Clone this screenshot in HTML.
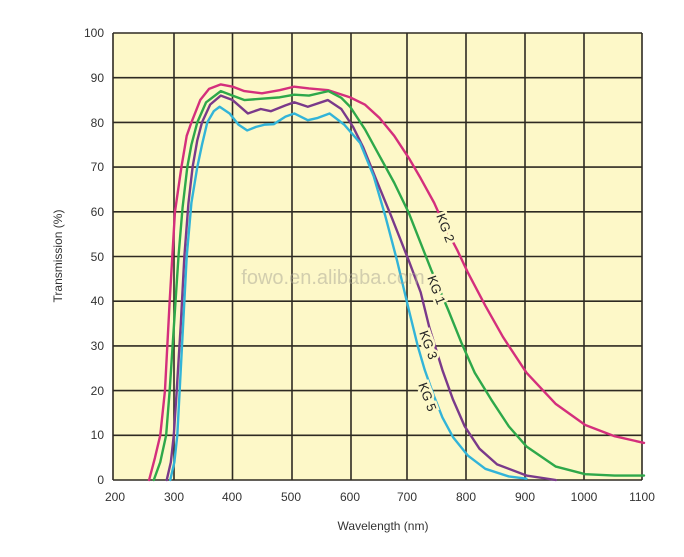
<!DOCTYPE html>
<html><head><style>
body{margin:0;background:#fff;width:684px;height:552px;overflow:hidden;font-family:"Liberation Sans",sans-serif}
</style></head><body>
<svg width="684" height="552" xmlns="http://www.w3.org/2000/svg" font-family="Liberation Sans, sans-serif">
<rect x="113" y="33" width="529" height="447" fill="#fdf8c8"/>
<g stroke="#2e2a22" stroke-width="1.6">
<line x1="113" y1="33" x2="642" y2="33"/><line x1="113" y1="77.7" x2="642" y2="77.7"/><line x1="113" y1="122.4" x2="642" y2="122.4"/><line x1="113" y1="167.1" x2="642" y2="167.1"/><line x1="113" y1="211.8" x2="642" y2="211.8"/><line x1="113" y1="256.5" x2="642" y2="256.5"/><line x1="113" y1="301.2" x2="642" y2="301.2"/><line x1="113" y1="345.9" x2="642" y2="345.9"/><line x1="113" y1="390.6" x2="642" y2="390.6"/><line x1="113" y1="435.3" x2="642" y2="435.3"/><line x1="113" y1="480" x2="642" y2="480"/>
<line x1="113" y1="33" x2="113" y2="480"/><line x1="174" y1="33" x2="174" y2="480"/><line x1="232.5" y1="33" x2="232.5" y2="480"/><line x1="292" y1="33" x2="292" y2="480"/><line x1="351" y1="33" x2="351" y2="480"/><line x1="407" y1="33" x2="407" y2="480"/><line x1="466" y1="33" x2="466" y2="480"/><line x1="525" y1="33" x2="525" y2="480"/><line x1="584" y1="33" x2="584" y2="480"/><line x1="642" y1="33" x2="642" y2="480"/>
</g>
<g transform="translate(115,480) scale(0.5878,-4.47) translate(-200,0)" fill="none" stroke-width="2.4" stroke-linejoin="round" stroke-linecap="round">
<polyline vector-effect="non-scaling-stroke" stroke="#d42f7c" points="258,0 268,5 277,10 285,20 293,40 302,60 313,70 322,77 330,80 345,85 360,87.5 380,88.5 400,88 420,87 450,86.5 480,87.2 505,88 530,87.6 563,87.2 600,85.6 625,84 650,81 675,77 700,72 720,67.5 743,62 760,57 782,51.5 800,46.5 830,39 860,32 900,24 950,17 1000,12.3 1050,9.8 1100,8.3"/>
<polyline vector-effect="non-scaling-stroke" stroke="#2ea84a" points="266,0 277,4 287,10 293,20 298,30 303,40 308,50 315,61 323,70 330,75 340,80 355,84.5 380,87 400,86 420,85 450,85.3 480,85.6 505,86.2 530,86 563,87 585,85.5 600,83.5 625,78.5 650,72.5 675,66.5 700,59.7 720,53 738,47 767,38 790,30.5 812,24 840,18 870,12 900,7.5 950,3 1000,1.3 1050,1 1100,1"/>
<polyline vector-effect="non-scaling-stroke" stroke="#7a3a8a" points="288,0 295,4 300,10 305,20 312,35 318,50 325,62 332,70 340,76 348,80 362,84 380,86 400,85 426,82 448,83 465,82.5 490,83.8 505,84.5 528,83.5 562,85 585,83 605,79 622,74.5 645,67 670,59 700,49 720,42 735,34 757,24.6 775,18 795,12 820,7 850,3.5 900,1 950,0"/>
<polyline vector-effect="non-scaling-stroke" stroke="#32b4d8" points="294,0 301,4 306,10 310,20 316,35 322,50 330,62 340,70 348,75 357,80 368,82.5 378,83.5 395,82 410,79.5 425,78.2 440,79 455,79.5 470,79.6 490,81.3 505,82 528,80.5 545,81 565,82 590,79.5 617,75.4 640,68 660,59 680,49 700,38 715,30 727,24.6 742,19 757,14 775,9.6 800,5.5 830,2.5 870,0.8 900,0.3"/>
</g>
<g font-size="13" fill="#222" stroke="#fdf8c8" stroke-width="5" paint-order="stroke" text-anchor="middle">
<text x="445" y="232" transform="rotate(70 445 228)">KG 2</text>
<text x="436" y="294" transform="rotate(70 436 290)">KG 1</text>
<text x="428" y="349" transform="rotate(70 428 345)">KG 3</text>
<text x="427" y="401" transform="rotate(70 427 397)">KG 5</text>
</g>
<text x="333" y="284" font-size="20" fill="#a8a494" fill-opacity="0.5" text-anchor="middle">fowo.en.alibaba.com</text>
<g font-size="12" fill="#333" text-anchor="end">
<text x="104" y="37">100</text><text x="104" y="82">90</text><text x="104" y="127">80</text><text x="104" y="171">70</text><text x="104" y="216">60</text><text x="104" y="261">50</text><text x="104" y="305">40</text><text x="104" y="350">30</text><text x="104" y="395">20</text><text x="104" y="439">10</text><text x="104" y="484">0</text>
</g>
<g font-size="12" fill="#333" text-anchor="middle">
<text x="115" y="501">200</text><text x="174" y="501">300</text><text x="232" y="501">400</text><text x="291" y="501">500</text><text x="350" y="501">600</text><text x="407" y="501">700</text><text x="466" y="501">800</text><text x="525" y="501">900</text><text x="584" y="501">1000</text><text x="642" y="501">1100</text>
</g>
<text x="383" y="530" font-size="12" fill="#333" text-anchor="middle">Wavelength (nm)</text>
<text transform="translate(62 256) rotate(-90)" font-size="12" fill="#333" text-anchor="middle">Transmission (%)</text>
</svg>
</body></html>
